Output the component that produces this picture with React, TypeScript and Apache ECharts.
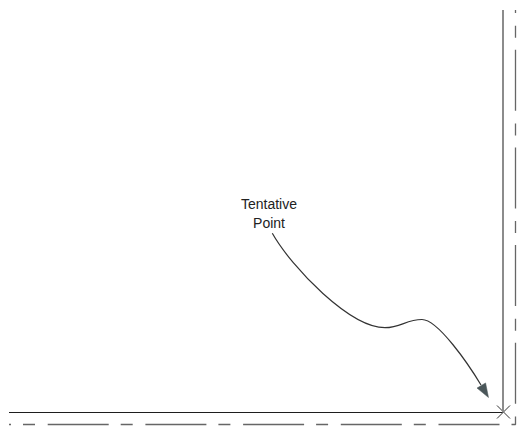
import React, { useEffect, useRef } from "react";
import * as echarts from "echarts";

// Diagram coordinates (pixel-like units on hidden value axes: x 0..518, y 0..435 downward)
const solidHorizontal: number[][] = [[9, 412.5], [503, 412.5]];
const solidVertical: number[][] = [[503, 10], [503, 412.5]];
const dashDotPath: number[][] = [[9, 424.5], [515.5, 424.5], [515.5, 10]];
// Curve as cubic Bézier segments: [x0, y0, c1x, c1y, c2x, c2y, x1, y1]
const curveSegments: number[][] = [
  [272.3, 233.3, 292, 268, 350, 327.7, 385, 327.7],
  [385, 327.7, 401, 327.7, 406, 319.5, 422, 319.5],
  [422, 319.5, 438, 319.5, 469, 365, 481, 385],
];
const arrowHead: number[][] = [[481, 385, 488.5, 397.5]];
const crossMarks: number[][] = [[503.5, 412]];
const labelPoint: number[][] = [[269, 232]];
const labelText = "Tentative\nPoint";

export default function App() {
  const ref = useRef<HTMLDivElement>(null);
  useEffect(() => {
    if (!ref.current) return;
    const chart = echarts.init(ref.current, null, { renderer: "svg" });
    chart.setOption({
      animation: false,
      backgroundColor: "#ffffff",
      grid: { left: 0, right: 0, top: 0, bottom: 0 },
      xAxis: { type: "value", min: 0, max: 518, show: false },
      yAxis: { type: "value", min: 0, max: 435, inverse: true, show: false },
      series: [
        {
          type: "line", data: solidHorizontal, symbol: "none", silent: true,
          lineStyle: { color: "#1e1e1e", width: 1 },
        },
        {
          type: "line", data: solidVertical, symbol: "none", silent: true,
          lineStyle: { color: "#8c8c8c", width: 2 },
        },
        {
          type: "line", data: dashDotPath, symbol: "none", silent: true,
          lineStyle: { color: "#666666", width: 1.3, type: [61, 12, 12, 12.7], dashOffset: 59 },
        },
        {
          type: "custom", data: curveSegments, silent: true,
          renderItem: (params: any, api: any) => {
            const p0 = api.coord([api.value(0), api.value(1)]);
            const c1 = api.coord([api.value(2), api.value(3)]);
            const c2 = api.coord([api.value(4), api.value(5)]);
            const p1 = api.coord([api.value(6), api.value(7)]);
            return {
              type: "bezierCurve",
              shape: {
                x1: p0[0], y1: p0[1], cpx1: c1[0], cpy1: c1[1],
                cpx2: c2[0], cpy2: c2[1], x2: p1[0], y2: p1[1],
              },
              style: { stroke: "#333333", lineWidth: 1.2, fill: "none" },
            };
          },
        },
        {
          type: "custom", data: arrowHead, silent: true,
          renderItem: (params: any, api: any) => {
            const a = api.coord([api.value(0), api.value(1)]);
            const t = api.coord([api.value(2), api.value(3)]);
            const dx = t[0] - a[0], dy = t[1] - a[1];
            const len = Math.hypot(dx, dy) || 1;
            const ux = dx / len, uy = dy / len;
            const nx = -uy, ny = ux;
            const L = 14, W = 5;
            const bx = t[0] - L * ux, by = t[1] - L * uy;
            return {
              type: "polygon",
              shape: { points: [[t[0], t[1]], [bx + W * nx, by + W * ny], [bx - W * nx, by - W * ny]] },
              style: { fill: "#4a5659", stroke: "#4a5659", lineWidth: 0.5 },
            };
          },
        },
        {
          type: "custom", data: crossMarks, silent: true,
          renderItem: (params: any, api: any) => {
            const c = api.coord([api.value(0), api.value(1)]);
            const s = 6.5;
            return {
              type: "group",
              children: [
                { type: "line", shape: { x1: c[0] - s, y1: c[1] - s, x2: c[0] + s, y2: c[1] + s }, style: { stroke: "#333333", lineWidth: 1 } },
                { type: "line", shape: { x1: c[0] - s, y1: c[1] + s, x2: c[0] + s, y2: c[1] - s }, style: { stroke: "#333333", lineWidth: 1 } },
              ],
            };
          },
        },
        {
          type: "custom", data: labelPoint, silent: true,
          renderItem: (params: any, api: any) => {
            const c = api.coord([api.value(0), api.value(1)]);
            return {
              type: "text",
              x: c[0], y: c[1],
              style: {
                text: labelText,
                fill: "#222222",
                font: "14px 'Liberation Sans', Arial, sans-serif",
                align: "center",
                verticalAlign: "bottom",
                lineHeight: 19,
              },
            };
          },
        },
      ],
    });
    return () => chart.dispose();
  }, []);
  return (
    <div
      ref={ref}
      style={{ position: "fixed", left: 0, top: 0, width: 518, height: 435 }}
    />
  );
}
